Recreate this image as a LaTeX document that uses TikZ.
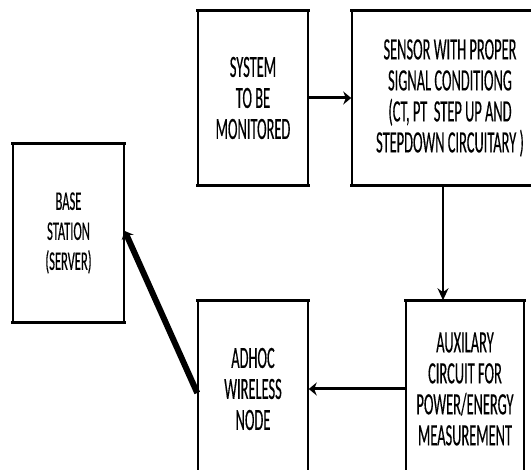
\documentclass[tikz,border=0pt]{standalone}
\usepackage{fontspec}
\setmainfont[FakeStretch=0.465,FakeBold=0.3]{Carlito}
\usepackage{tikz}
\usetikzlibrary{arrows.meta}
\tikzset{
  every picture/.style={line join=miter, >=Stealth},
  blockbox/.style={draw, line width=1.5pt, align=center, inner sep=0pt, font=\fontsize{31}{31}\selectfont},
  boxedge/.style={line width=3pt, line cap=rect},
  link/.style={line width=3pt},
}
\begin{document}
\begin{tikzpicture}[x=1pt,y=1pt]
\useasboundingbox (0,0) rectangle (531,470);
\clip (0,0) rectangle (531,470);
\node[blockbox, minimum width=110pt, minimum height=174pt] (sys) at (253,372) {SYSTEM\\TO BE\\MONITORED};
\node[blockbox, minimum width=196pt, minimum height=174pt] (sens) at (450,372) {SENSOR WITH PROPER\\SIGNAL CONDITIONG\\(CT, PT~~STEP UP AND\\STEPDOWN CIRCUITARY )};
\node[blockbox, minimum width=111pt, minimum height=178pt, font=\fontsize{27}{30}\selectfont] (base) at (68.5,237) {BASE\\STATION\\(SERVER)};
\node[blockbox, minimum width=110pt, minimum height=176pt] (adhoc) at (253,81) {ADHOC\\WIRELESS\\NODE};
\node[blockbox, minimum width=118pt, minimum height=176pt] (aux) at (465,81) {AUXILARY\\CIRCUIT FOR\\POWER/ENERGY\\MEASUREMENT};
\foreach \n in {sys,sens,base,adhoc,aux}
  \draw[boxedge] (\n.north west) -- (\n.north east) (\n.south west) -- (\n.south east);
\draw[link,-{Stealth[length=8pt,width=13pt]}] (sys) -- (sens);
\draw[line width=1.5pt,-{Stealth[length=12pt,width=11pt]}] ([xshift=-7pt]sens.south) -- ([xshift=-7pt]sens.south |- aux.north);
\draw[link,-{Stealth[length=8pt,width=13pt]}] (aux) -- (adhoc);
\draw[line width=6pt,-{Stealth[length=7pt,width=13pt]}] ([yshift=-4pt]adhoc.west) -- ([yshift=2pt]base.east);
\end{tikzpicture}
\end{document}
